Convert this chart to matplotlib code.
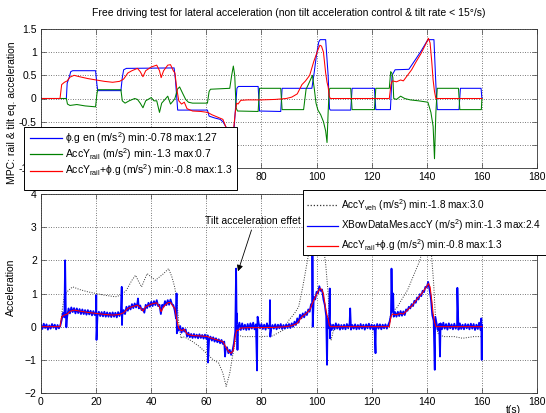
import matplotlib
matplotlib.use('Agg')
import matplotlib.pyplot as plt
from matplotlib.patches import Rectangle

plt.rcParams['font.family'] = ['Liberation Sans', 'DejaVu Sans']
plt.rcParams['mathtext.default'] = 'regular'

# ---- tilt-equivalent acceleration phi.g (top panel, blue) ----
phig = [(0, 0), (9.2, 0), (9.5, 0.33), (10.2, 0.45), (10.8, 0.58), (11.5, 0.6), (19.8, 0.6),
        (20.3, 0.3), (20.6, 0.17), (29.0, 0.17), (29.5, 0.45), (30.0, 0.62), (31, 0.65),
        (48.3, 0.66), (48.8, 0.4), (49.6, -0.25), (60.4, -0.25), (61, -0.38), (63, -0.42),
        (65, -0.45), (66, -0.5), (67, -0.6), (68, -0.72), (69, -0.78), (70, -0.7), (70.6, -0.2),
        (71.1, 0.22), (71.6, 0.26), (78.8, 0.26), (79.3, -0.27), (87.0, -0.28), (87.5, 0.22),
        (98.3, 0.22), (99, 0.5), (100, 0.95), (100.8, 1.22), (101.3, 1.27), (103.3, 1.27),
        (104.2, 0.5), (104.7, -0.22), (105, -0.25), (112.4, -0.25), (112.9, 0.22), (121, 0.22),
        (121.5, -0.24), (126.8, -0.24), (127.4, 0.5), (128.5, 0.62), (133.5, 0.63), (136, 0.85),
        (138, 1.03), (140.2, 1.25), (140.6, 1.27), (142.6, 1.27), (143.3, 0.3), (143.8, -0.24),
        (151.7, -0.24), (152.2, 0.22), (159.7, 0.22), (160, 0)]

# ---- rail lateral acceleration AccY_rail (top panel, green) ----
accy_rail = [(0, 0), (9.2, 0), (9.6, -0.12), (10.5, -0.15), (13, -0.13), (16, -0.16), (19.8, -0.18),
             (20.3, 0.1), (20.6, 0.19), (29.0, 0.19), (29.5, -0.05), (30.5, -0.1), (32, -0.05),
             (34, 0.0), (35, -0.02), (36, -0.1), (37, -0.2), (38, -0.05), (40, 0.02), (41, -0.05),
             (42, -0.05), (43, -0.3), (43.8, -0.1), (45, -0.02), (46, 0.05), (47, -0.12), (48, -0.05),
             (48.6, 0.0), (49.5, 0.2), (50.3, 0.25), (51.5, 0.1), (52.5, -0.02), (53.5, -0.08),
             (55, -0.1), (60.4, -0.1), (61, 0.15), (61.5, 0.2), (68.5, 0.22), (69.2, 0.5), (69.8, 0.7),
             (70.3, 0.5), (70.8, -0.2), (71.3, -0.27), (78.8, -0.28), (79.3, 0.22), (87.0, 0.22),
             (87.5, -0.24), (95.3, -0.24), (96.2, 0.2), (97, 0.3), (98.5, 0.5), (99.2, 0.2),
             (99.8, -0.1), (100.5, -0.25), (101.5, -0.35), (102.5, -0.5), (103.3, -0.7), (103.8, -0.95),
             (104.2, -0.3), (104.6, 0.2), (105, 0.22), (112.4, 0.22), (112.9, -0.24), (121, -0.24),
             (121.5, 0.22), (126.4, 0.22), (126.9, 0.58), (127.3, 0.55), (127.7, 0.45), (128, 0.0),
             (129, -0.02), (130.5, 0.05), (132, 0.0), (134, -0.03), (137, -0.05), (140.4, -0.08),
             (141.5, -0.3), (142.3, -0.6), (142.8, -1.3), (143.3, -0.3), (143.8, 0.22), (151.5, 0.22),
             (152, -0.24), (159.8, -0.24), (160, 0)]

# ---- AccY_rail + phi.g (both panels, red) ----
rail_plus_phig = [(0, 0), (6.9, 0), (7.5, 0.3), (8.5, 0.35), (9.5, 0.38), (10.5, 0.46), (12, 0.5),
                  (14, 0.47), (17, 0.43), (20, 0.4), (23, 0.37), (26, 0.35), (28.5, 0.37), (30, 0.42),
                  (31.5, 0.55), (33, 0.6), (35, 0.65), (36, 0.58), (37, 0.47), (38, 0.6), (40, 0.68),
                  (42, 0.72), (43, 0.6), (43.6, 0.45), (44.5, 0.6), (46, 0.72), (47, 0.73), (48, 0.6),
                  (48.6, 0.55), (49.3, 0.2), (50, -0.05), (51, -0.12), (52, -0.08), (53, -0.22),
                  (55, -0.27), (58, -0.28), (60.5, -0.3), (62, -0.35), (64, -0.4), (66, -0.45),
                  (67, -0.6), (68, -0.75), (69, -0.8), (69.8, -0.72), (70.5, -0.3), (71, -0.1),
                  (71.5, -0.12), (72.5, -0.04), (75, -0.03), (80, -0.03), (85, -0.02), (89, 0.0),
                  (91, 0.03), (93, 0.1), (94.7, 0.3), (96, 0.38), (97.5, 0.5), (99, 0.8), (100.5, 1.05),
                  (101.2, 1.15), (101.8, 1.13), (102.5, 1.0), (103.3, 0.55), (103.8, 0.35), (104.2, 0.25),
                  (104.6, 0.05), (105, 0.0), (126.4, 0.0), (127, 0.3), (127.5, 0.38), (129, 0.36),
                  (130.5, 0.4), (131.5, 0.38), (133, 0.5), (134.5, 0.62), (136, 0.78), (138, 0.98),
                  (140, 1.22), (140.6, 1.3), (141.2, 1.2), (141.8, 0.8), (142.3, 0.4), (142.8, 0.15),
                  (143.3, 0.0), (160, 0)]

# ---- vehicle lateral acceleration AccY_veh (bottom panel, dotted) ----
accy_veh = [(0, 0), (7, 0), (7.7, 0.5), (8.5, 0.95), (10, 1.1), (11.5, 1.2), (14, 1.12), (17, 1.05),
            (20, 1.0), (23, 0.95), (27, 0.9), (29, 0.95), (31, 1.1), (33, 1.4), (34.3, 1.55),
            (35.5, 1.35), (36.5, 1.2), (38.5, 1.6), (40, 1.5), (41.5, 1.4), (43, 1.5), (44.5, 1.6),
            (46.3, 1.75), (47.5, 1.5), (48.5, 1.2), (49.3, 0.8), (50, 0.1), (50.8, -0.35), (51.5, -0.3),
            (53, -0.35), (55, -0.45), (57.5, -0.6), (60, -0.8), (62.5, -1.0), (64.5, -1.1), (66, -1.4),
            (67.2, -1.8), (68.5, -1.4), (69.5, -0.9), (70.5, -0.45), (71.5, -0.25), (73, -0.3),
            (76, -0.3), (80, -0.3), (84, -0.28), (88, -0.1), (90, 0.2), (92, 0.4), (93.5, 0.6),
            (95, 1.2), (96.5, 1.9), (97.5, 2.4), (99, 2.9), (100.5, 3.0), (101.5, 2.9), (102.5, 2.4),
            (103.3, 1.9), (104.2, 1.0), (104.8, -0.2), (105.3, -0.4), (106, -0.15), (107, 0.0),
            (126.3, 0.0), (127, 0.45), (129, 0.55), (131.5, 0.9), (133, 1.1), (135, 1.5), (137.5, 2.0),
            (139, 2.5), (140.5, 2.7), (141.5, 2.4), (142.5, 1.3), (143.2, 0.2), (144, -0.2), (146, -0.3),
            (150, -0.3), (153, -0.35), (157, -0.3), (160, -0.3)]

# ---- measured lateral acceleration XBowDataMes.accY (bottom panel, blue) ----
# regular samples every 0.5 s, one row per 5 s
xbow_step = 0.5
xbow_rows = [
    [0.06, -0.07, 0.09, -0.04, 0.07, -0.09, 0.04, -0.06, 0.08, -0.03],
    [0.06, -0.08, 0.05, -0.05, 0.03, 0.2, 0.42, 0.28, 0.48, 0.3],
    [0.55, 0.4, 0.58, 0.44, 0.56, 0.4, 0.55, 0.41, 0.53, 0.38],
    [0.52, 0.38, 0.5, 0.36, 0.5, 0.37, 0.48, 0.34, 0.47, 0.35],
    [0.46, 0.33, 0.45, 0.32, 0.44, 0.31, 0.45, 0.3, 0.43, 0.3],
    [0.42, 0.29, 0.43, 0.3, 0.42, 0.28, 0.44, 0.32, 0.45, 0.34],
    [0.5, 0.38, 0.6, 0.48, 0.62, 0.52, 0.68, 0.56, 0.7, 0.58],
    [0.72, 0.55, 0.64, 0.5, 0.54, 0.42, 0.66, 0.56, 0.72, 0.6],
    [0.75, 0.62, 0.77, 0.65, 0.8, 0.62, 0.66, 0.38, 0.66, 0.6],
    [0.77, 0.65, 0.8, 0.66, 0.82, 0.68, 0.65, 0.5, 0.25, 0.0],
    [-0.12, 0.02, -0.18, -0.04, -0.15, -0.08, -0.3, -0.18, -0.32, -0.22],
    [-0.34, -0.22, -0.33, -0.24, -0.35, -0.23, -0.34, -0.25, -0.36, -0.24],
    [-0.37, -0.26, -0.4, -0.3, -0.42, -0.32, -0.45, -0.35, -0.47, -0.38],
    [-0.5, -0.4, -0.52, -0.45, -0.68, -0.62, -0.8, -0.7, -0.85, -0.72],
    [-0.5, -0.15, 0.1, -0.05, 0.12, -0.1, 0.1, -0.08, 0.06, -0.1],
    [0.08, -0.09, 0.1, -0.06, 0.12, -0.08, 0.07, -0.1, 0.1, -0.05],
    [0.08, -0.07, 0.06, -0.09, 0.1, -0.05, 0.07, -0.08, 0.05, -0.06],
    [0.07, -0.08, 0.06, -0.05, 0.08, -0.07, 0.05, -0.06, 0.07, -0.04],
    [0.08, -0.04, 0.1, 0.0, 0.15, 0.05, 0.25, 0.12, 0.36, 0.25],
    [0.4, 0.28, 0.44, 0.35, 0.52, 0.45, 0.68, 0.62, 0.9, 0.82],
    [1.05, 1.0, 1.22, 1.08, 1.12, 0.82, 0.65, 0.32, 0.25, -0.05],
    [0.08, -0.1, 0.06, -0.08, 0.1, -0.06, 0.07, -0.09, 0.05, -0.07],
    [0.06, -0.08, 0.08, -0.05, 0.1, -0.09, 0.05, -0.06, 0.07, -0.08],
    [0.05, -0.07, 0.08, -0.06, 0.06, -0.09, 0.07, -0.05, 0.09, -0.07],
    [0.06, -0.08, 0.05, -0.1, 0.08, -0.06, 0.07, -0.08, 0.06, -0.05],
    [0.07, -0.06, 0.05, 0.15, 0.35, 0.45, 0.3, 0.44, 0.3, 0.45],
    [0.32, 0.47, 0.33, 0.46, 0.35, 0.52, 0.48, 0.6, 0.55, 0.68],
    [0.62, 0.78, 0.72, 0.88, 0.82, 0.98, 0.92, 1.08, 1.04, 1.2],
    [1.18, 1.35, 1.12, 0.85, 0.35, 0.18, -0.08, 0.12, -0.1, 0.08],
    [0.1, -0.08, 0.12, -0.06, 0.08, -0.09, 0.1, -0.05, 0.07, -0.08],
    [0.09, -0.06, 0.06, -0.09, 0.1, -0.07, 0.06, -0.08, 0.08, -0.05],
    [0.07, -0.08, 0.09, -0.06, 0.08, -0.1, 0.06, -0.07, 0.12, -0.1],
]
xbow_last = (160, 0.05)
# short peaks between the regular samples
xbow_spikes = [(8.75, 2.0), (9.2, -0.02), (20.05, 0.95), (20.15, -0.4), (29.3, 1.2), (29.4, 0.05),
               (35.2, 0.85), (49.2, 1.0), (49.3, -0.2), (60.6, -1.08), (66.8, -0.9), (70.8, 1.75),
               (71.0, 0.4), (71.3, -0.7), (78.4, -1.32), (78.6, 0.3), (83.1, 0.8), (83.2, -0.3),
               (98.5, 2.4), (98.6, 0.0), (103.8, -1.15), (104.8, 1.15), (104.9, -0.35), (112.2, 0.55),
               (121.4, -0.8), (127.2, 1.75), (127.8, 1.0), (142.9, -1.3), (143.1, 0.3), (144.8, -0.9),
               (151.1, 1.17), (159.8, 0.25), (159.95, -1.0)]

x_ticks = [0, 20, 40, 60, 80, 100, 120, 140, 160, 180]
top_yticks = [-1.5, -1, -0.5, 0, 0.5, 1, 1.5]
top_yticklabels = ['-1.5', '-1', '-0.5', '0', '0.5', '1', '1.5']
bot_yticks = [-2, -1, 0, 1, 2, 3, 4]

title_text = 'Free driving test for lateral acceleration (non tilt acceleration control & tilt rate < 15°/s)'
lbl_phig = 'ϕ.g en (m/s$^2$) min:-0.78 max:1.27'
lbl_rail = 'AccY$_{rail}$ (m/s$^2$) min:-1.3 max:0.7'
lbl_sum = 'AccY$_{rail}$+ϕ.g (m/s$^2$) min:-0.8 max:1.3'
lbl_veh = 'AccY$_{veh}$ (m/s$^2$) min:-1.8 max:3.0'
lbl_xbow = 'XBowDataMes.accY (m/s$^2$) min:-1.3 max:2.4'


def unzip(pairs):
    return [p[0] for p in pairs], [p[1] for p in pairs]


xbow = []
for i, row in enumerate(xbow_rows):
    for j, v in enumerate(row):
        xbow.append(((i * len(row) + j) * xbow_step, v))
xbow.append(xbow_last)
xbow = sorted(xbow + xbow_spikes)

W, H = 546, 413
FS = 7.5
fig = plt.figure(figsize=(W / 100, H / 100), dpi=100)
fig.patch.set_facecolor('white')
ax1 = fig.add_axes([41 / W, 1 - 168 / H, 496 / W, 139 / H])
ax2 = fig.add_axes([41 / W, 1 - 393 / H, 496 / W, 199 / H])

lw = 0.75
blue, green, red = '#0000ff', '#008000', '#ff0000'
veh_color = '#333333'

h1, = ax1.plot(*unzip(phig), color=blue, lw=lw, label=lbl_phig)
h2, = ax1.plot(*unzip(accy_rail), color=green, lw=lw, label=lbl_rail)
h3, = ax1.plot(*unzip(rail_plus_phig), color=red, lw=lw, label=lbl_sum)

g1, = ax2.plot(*unzip(accy_veh), color=veh_color, lw=0.7, ls=(0, (1, 1.5)), label=lbl_veh)
g2, = ax2.plot(*unzip(xbow), color=blue, lw=1.3, label=lbl_xbow)
g3, = ax2.plot(*unzip(rail_plus_phig), color=red, lw=lw, label=lbl_sum)

for ax in (ax1, ax2):
    ax.set_xlim(0, 180)
    ax.set_xticks(x_ticks)
    ax.grid(True, color='black', ls=(0, (1, 2.5)), lw=0.5)
    ax.tick_params(direction='in', top=True, right=True, length=3.5, width=0.5,
                   labelsize=FS, pad=3, color='#444444')
    for s in ax.spines.values():
        s.set_linewidth(0.6)
        s.set_color('#333333')

ax1.set_ylim(-1.5, 1.5)
ax1.set_yticks(top_yticks)
ax1.set_yticklabels(top_yticklabels)
ax2.set_ylim(-2, 4)
ax2.set_yticks(bot_yticks)

ax1.set_title(title_text, fontsize=FS, pad=9)
ax1.set_ylabel('MPC: rail & tilt eq. acceleration', fontsize=FS)
ax1.yaxis.set_label_coords(-0.048, 0.40)
ax2.set_ylabel('Acceleration', fontsize=FS)
ax2.yaxis.set_label_coords(-0.051, 0.53)
ax2.set_xlabel('t(s)', fontsize=FS)
ax2.xaxis.set_label_coords(0.952, -0.058)

ax2.annotate('Tilt acceleration effet', xy=(71.5, 1.67), xytext=(59.5, 3.19),
             fontsize=FS, ha='left', va='center',
             arrowprops=dict(arrowstyle='-|>', color='black', lw=0.6, mutation_scale=9,
                             shrinkA=1, shrinkB=0, relpos=(0.5, 0)))

# legend boxes (white frame drawn separately so that its extent can be set)
fig.add_artist(Rectangle((24 / W, 1 - 190 / H), 213 / W, 63 / H, transform=fig.transFigure,
                         facecolor='white', edgecolor='black', lw=0.7, zorder=4.8))
fig.add_artist(Rectangle((303 / W, 1 - 255 / H), 260 / W, 65 / H, transform=fig.transFigure,
                         facecolor='white', edgecolor='black', lw=0.7, zorder=4.8))

leg_kw = dict(frameon=False, borderaxespad=0, borderpad=0, handlelength=3.1,
              handletextpad=0.3, loc='upper left', bbox_transform=fig.transFigure)
leg1 = fig.legend(handles=[h1, h2, h3], bbox_to_anchor=(30 / W, 1 - 130 / H),
                  labelspacing=0.05, fontsize=FS, **leg_kw)
leg2 = fig.legend(handles=[g1, g2, g3], bbox_to_anchor=(307 / W, 1 - 197 / H),
                  labelspacing=0.45, fontsize=7.2, **leg_kw)
for leg, cols in ((leg1, (blue, green, red)), (leg2, (veh_color, blue, red))):
    leg.set_zorder(5)
    for line, c in zip(leg.get_lines(), cols):
        line.set_color(c)
        line.set_linewidth(0.9)

fig.savefig('out.png', dpi=100, facecolor='white')
